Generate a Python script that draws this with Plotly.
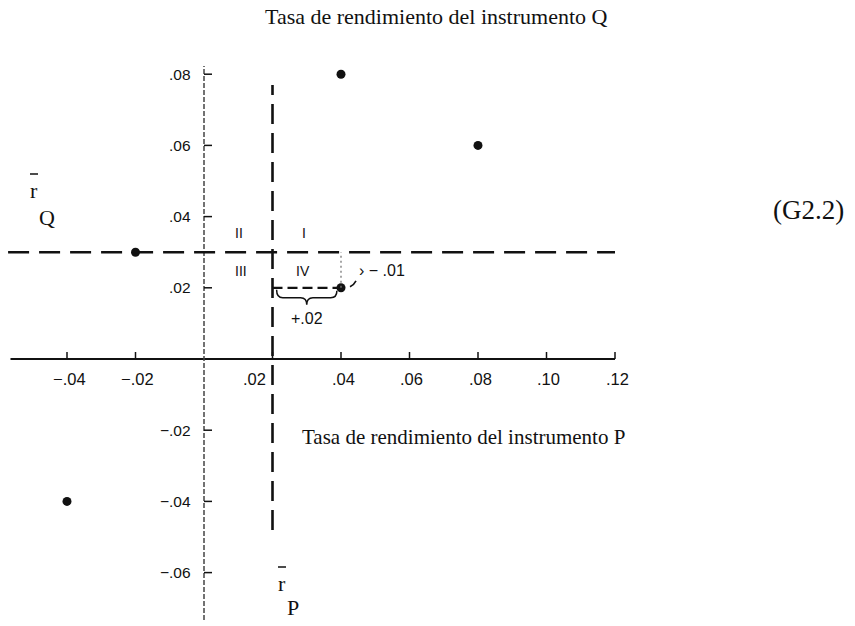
import numpy as np
import plotly.graph_objects as go

# ---------------- data ----------------
ret_p = [0.04, 0.08, -0.02, 0.04, -0.04]   # rendimiento del instrumento P
ret_q = [0.08, 0.06, 0.03, 0.02, -0.04]    # rendimiento del instrumento Q
x_tick_vals = [-0.04, -0.02, 0.02, 0.04, 0.06, 0.08, 0.10, 0.12]
x_tick_text = ["\u2212.04", "\u2212.02", ".02", ".04", ".06", ".08", ".10", ".12"]
y_tick_vals = [0.08, 0.06, 0.04, 0.02, -0.02, -0.04, -0.06]
y_tick_text = [".08", ".06", ".04", ".02", "\u2212.02", "\u2212.04", "\u2212.06"]
quadrant_names = ["I", "II", "III", "IV"]
highlight = 3  # point whose deviations are annotated

mean_p = float(np.mean(ret_p))
mean_q = float(np.mean(ret_q))

# ---------------- layout geometry ----------------
W, H = 855, 626
X0PX, XSCALE = 204, 3425.0
Y0PX, YSCALE = 359, 3560.0
x_range = [-X0PX / XSCALE, (W - X0PX) / XSCALE]
y_range = [-(H - Y0PX) / YSCALE, Y0PX / YSCALE]

SERIF = "Liberation Serif, Times New Roman, serif"
SANS = "Liberation Sans, Arial, sans-serif"
INK = "#111111"

fig = go.Figure()

# data points
fig.add_trace(go.Scatter(x=ret_p, y=ret_q, mode="markers",
                         marker=dict(size=9, color=INK), hoverinfo="skip",
                         showlegend=False))

shapes = []
ann = []

# horizontal axis (P)
shapes.append(dict(type="line", xref="x", yref="y", x0=-0.0565, x1=0.12, y0=0, y1=0,
                   line=dict(color=INK, width=2)))
for v in x_tick_vals:
    shapes.append(dict(type="line", xref="x", yref="y", ysizemode="pixel", yanchor=0,
                       x0=v, x1=v, y0=0, y1=7, line=dict(color=INK, width=1.5)))
for v, t in zip(x_tick_vals, x_tick_text):
    if abs(v - mean_p) < 1e-9:
        ann.append(dict(x=v, y=0, xref="x", yref="y", text=t, showarrow=False,
                        xanchor="right", yanchor="middle", xshift=-5, yshift=-20,
                        font=dict(family=SANS, size=16.5, color=INK)))
    else:
        ann.append(dict(x=v, y=0, xref="x", yref="y", text=t, showarrow=False,
                        xanchor="center", yanchor="middle", xshift=2, yshift=-20,
                        font=dict(family=SANS, size=16.5, color=INK)))

# vertical axis (Q)
shapes.append(dict(type="line", xref="x", yref="y", x0=0, x1=0, y0=-0.0733, y1=0.0823,
                   line=dict(color="#444444", width=1.5, dash="5px,2px")))
for v in y_tick_vals:
    shapes.append(dict(type="line", xref="x", yref="y", xsizemode="pixel", xanchor=0,
                       x0=0, x1=8, y0=v, y1=v, line=dict(color=INK, width=1.5)))
for v, t in zip(y_tick_vals, y_tick_text):
    ann.append(dict(x=0, y=v, xref="x", yref="y", text=t, showarrow=False,
                    xanchor="right", yanchor="middle", xshift=-11,
                    font=dict(family=SANS, size=15.5, color=INK)))

# mean lines
shapes.append(dict(type="line", xref="x", yref="y", x0=-0.0572, x1=0.12,
                   y0=mean_q, y1=mean_q, line=dict(color=INK, width=2.6, dash="21px,10px")))
shapes.append(dict(type="line", xref="x", yref="y", x0=mean_p, x1=mean_p,
                   y0=-0.048, y1=0.077, line=dict(color=INK, width=2.6, dash="20px,9px")))

# quadrant labels
q_off = {"I": (31, 19), "II": (-34, 19), "III": (-32, -19), "IV": (30, -19)}
for name in quadrant_names:
    dx, dy = q_off[name]
    ann.append(dict(x=mean_p, y=mean_q, xref="x", yref="y", text=name, showarrow=False,
                    xanchor="center", yanchor="middle", xshift=dx, yshift=dy,
                    font=dict(family=SANS, size=14, color=INK)))

# deviations of the highlighted point
hx, hy = ret_p[highlight], ret_q[highlight]
shapes.append(dict(type="line", xref="x", yref="y", x0=mean_p, x1=hx, y0=hy, y1=hy,
                   line=dict(color=INK, width=2.2, dash="10px,5px")))
shapes.append(dict(type="line", xref="x", yref="y", x0=hx, x1=hx, y0=hy, y1=mean_q,
                   line=dict(color="#777777", width=1.3, dash="2px,3px")))
# brace under the +.02 segment
bx0, bx1 = mean_p + 0.0012, hx - 0.0012
bxm = (bx0 + bx1) / 2
d = 0.0018
brace = (f"M {bx0},-2 Q {bx0},-10 {bx0 + d},-10 L {bxm - d},-10 "
         f"Q {bxm},-10 {bxm},-17 Q {bxm},-10 {bxm + d},-10 L {bx1 - d},-10 "
         f"Q {bx1},-10 {bx1},-3")
shapes.append(dict(type="path", xref="x", yref="y", ysizemode="pixel", yanchor=hy,
                   path=brace, line=dict(color=INK, width=1.5)))
ann.append(dict(x=bxm, y=hy, xref="x", yref="y", text="+.02", showarrow=False,
                xanchor="center", yanchor="middle", yshift=-31,
                font=dict(family=SANS, size=16, color=INK)))
# connector to the -.01 label
shapes.append(dict(type="path", xref="x", yref="y", xsizemode="pixel", ysizemode="pixel",
                   xanchor=hx, yanchor=hy, path="M 9,1 Q 13,3 15,7",
                   line=dict(color=INK, width=1.6)))
ann.append(dict(x=hx, y=hy, xref="x", yref="y", text="\u203a \u2212 .01", showarrow=False,
                xanchor="left", yanchor="middle", xshift=16, yshift=17,
                font=dict(family=SANS, size=16, color=INK)))

# axis titles
ann.append(dict(x=437 / W, y=1 - 17 / H, xref="paper", yref="paper",
                xanchor="center", yanchor="middle",
                text="Tasa de rendimiento del instrumento Q", showarrow=False,
                font=dict(family=SERIF, size=22, color=INK)))
ann.append(dict(x=300 / W, y=1 - 437 / H, xref="paper", yref="paper",
                xanchor="left", yanchor="middle",
                text="Tasa de rendimiento del instrumento P", showarrow=False,
                font=dict(family=SERIF, size=21, color=INK)))
ann.append(dict(x=808 / W, y=1 - 210 / H, xref="paper", yref="paper",
                xanchor="center", yanchor="middle",
                text="(G2.2)", showarrow=False,
                font=dict(family=SERIF, size=27, color=INK)))

# r-bar labels
def rbar(xr, yr, xs, ys, sub):
    ann.append(dict(x=xr / W, y=1 - yr / H, xref="paper", yref="paper", text="r",
                    xanchor="center", yanchor="middle",
                    showarrow=False, font=dict(family=SERIF, size=22, color=INK)))
    shapes.append(dict(type="line", xref="paper", yref="paper",
                       x0=(xr - 4) / W, x1=(xr + 4) / W,
                       y0=1 - (yr - 16) / H, y1=1 - (yr - 16) / H,
                       line=dict(color=INK, width=1.5)))
    ann.append(dict(x=xs / W, y=1 - ys / H, xref="paper", yref="paper", text=sub,
                    xanchor="center", yanchor="middle",
                    showarrow=False, font=dict(family=SERIF, size=22, color=INK)))

rbar(34, 190, 47, 217, "Q")
rbar(282, 583, 293, 607, "P")

fig.update_layout(
    width=W, height=H, autosize=False,
    margin=dict(l=0, r=0, t=0, b=0, pad=0),
    paper_bgcolor="white", plot_bgcolor="white",
    xaxis=dict(range=x_range, visible=False, fixedrange=True),
    yaxis=dict(range=y_range, visible=False, fixedrange=True),
    shapes=shapes, annotations=ann, showlegend=False,
)

fig.write_html("out.html", config={"displayModeBar": False},
               post_script="document.body.style.margin='0';")
